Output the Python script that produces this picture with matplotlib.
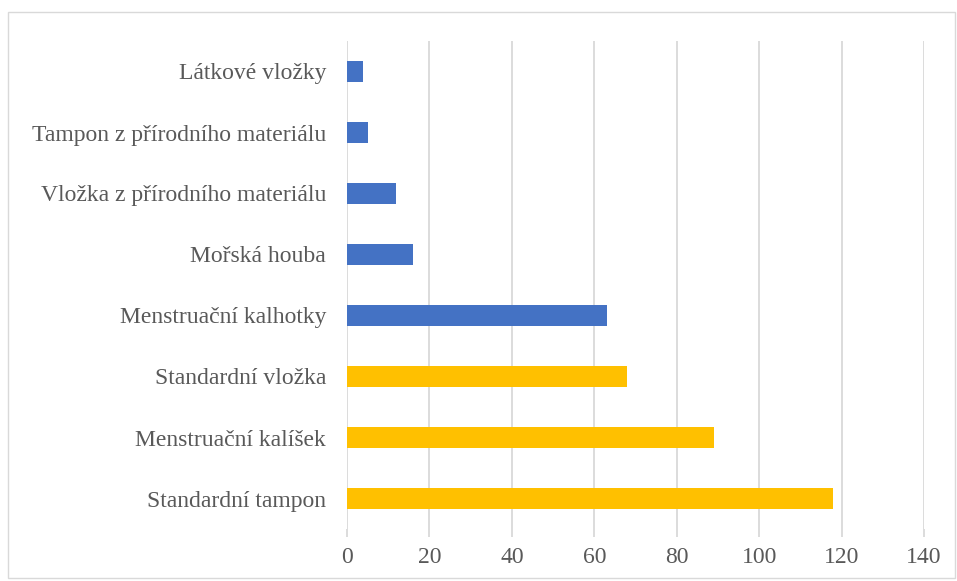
import matplotlib
matplotlib.use("Agg")
import matplotlib.pyplot as plt
from matplotlib.patches import Rectangle

categories = ["Standardní tampon", "Menstruační kalíšek", "Standardní vložka",
              "Menstruační kalhotky", "Mořská houba", "Vložka z přírodního materiálu",
              "Tampon z přírodního materiálu", "Látkové vložky"]
values = [118, 89, 68, 63, 16, 12, 5, 4]
colors = ["#FFC000", "#FFC000", "#FFC000", "#4472C4", "#4472C4", "#4472C4", "#4472C4", "#4472C4"]
xticks = [0, 20, 40, 60, 80, 100, 120, 140]

plt.rcParams['font.family'] = ['Liberation Serif', 'DejaVu Serif']

W, H = 957, 581
fig = plt.figure(figsize=(W / 100, H / 100), dpi=100)
ax = fig.add_axes([347 / W, 1 - 529 / H, (924 - 347) / W, (529 - 41) / H])

ax.barh(range(len(categories)), values, height=0.354, color=colors, zorder=3)
ax.set_ylim(-0.5, len(categories) - 0.5)
ax.set_xlim(0, 140)
ax.set_xticks(xticks)
ax.set_yticks(range(len(categories)))
ax.set_yticklabels(categories)
ax.grid(axis='x', color='#D9D9D9', linewidth=1.3, zorder=0)
for s in ax.spines.values():
    s.set_visible(False)
ax.tick_params(axis='y', length=0, labelsize=17, colors='#595959', pad=15)
ax.tick_params(axis='x', length=5.8, width=1.3, color='#D9D9D9', labelsize=17,
               labelcolor='#595959', pad=7)

fig.patches.append(Rectangle((8 / W, 1 - 578 / H), (955 - 8) / W, (578 - 12) / H,
                             transform=fig.transFigure, fill=False,
                             edgecolor='#D9D9D9', linewidth=1.0))

fig.savefig("out.png", dpi=100)
